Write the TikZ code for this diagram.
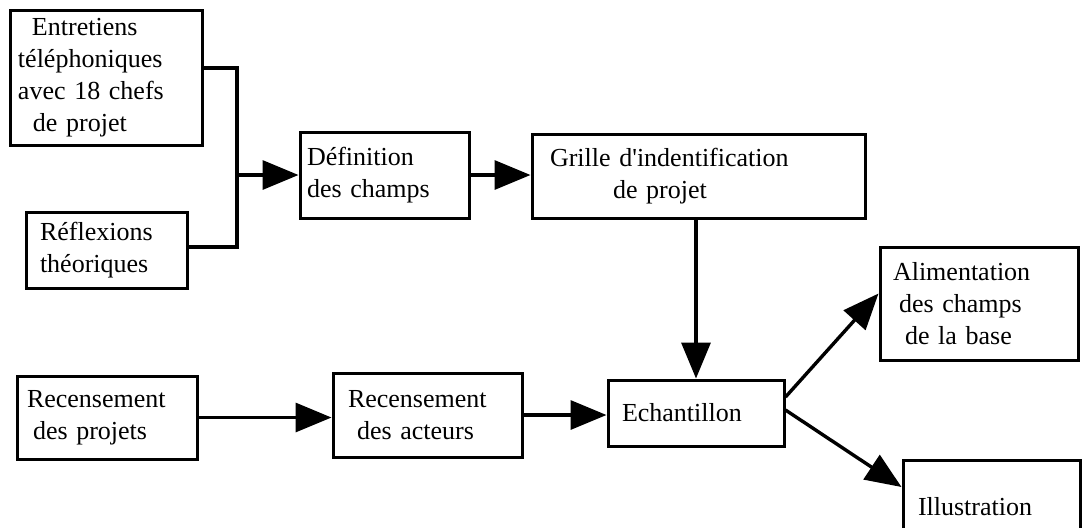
\documentclass[tikz,border=0pt]{standalone}
\usepackage{fontspec}
\setmainfont{Liberation Serif}
\usetikzlibrary{arrows.meta}

\begin{document}
\begin{tikzpicture}[x=0.5pt, y=-0.5pt,
    flowBox/.style={draw, line width=1.5pt, align=left, inner ysep=0pt,
        font=\fontsize{13}{16}\selectfont},
    flowLine/.style={line width=1.7pt},
    flowArr/.style={flowLine, -{Triangle[length=18pt,width=14.5pt]}},
]
\useasboundingbox (0,0) rectangle (1082,527);
\clip (0,0) rectangle (1082,527);
% sources on the left
\node[flowBox, minimum width=96pt, minimum height=67.5pt, text width=88pt, inner xsep=4pt]
    (entretiens) at (106,77.5)
    {\hspace*{7pt}Entretiens\\t\'el\'ephoniques\\avec 18 chefs\\\hspace*{7.5pt}de projet};
\node[flowBox, minimum width=80.5pt, minimum height=38pt, text width=66.5pt, inner xsep=7pt]
    (reflexions) at (106.5,250) {R\'eflexions\\th\'eoriques};
% top row
\node[flowBox, minimum width=84.5pt, minimum height=43pt, text width=77.5pt, inner xsep=3.5pt]
    (definition) at (384.5,175) {D\'efinition\\des champs};
\node[flowBox, minimum width=166.5pt, minimum height=42pt, text width=148.5pt, inner xsep=9pt]
    (grille) at (698.5,176) {Grille d\textquotesingle indentification\\\hspace*{31.5pt}de projet};
% bottom row
\node[flowBox, minimum width=90pt, minimum height=41.5pt, text width=80pt, inner xsep=5pt]
    (projets) at (107,417.5) {Recensement\\\hspace*{3pt}des projets};
\node[flowBox, minimum width=94.5pt, minimum height=42pt, text width=79.5pt, inner xsep=7.5pt]
    (acteurs) at (427.5,415) {Recensement\\\hspace*{4.5pt}des acteurs};
\node[flowBox, minimum width=88pt, minimum height=33pt, text width=74pt, inner xsep=7pt]
    (echantillon) at (696,413) {Echantillon};
% outputs on the right
\node[flowBox, minimum width=99pt, minimum height=56.5pt, text width=86pt, inner xsep=6.5pt]
    (alimentation) at (979,303.5)
    {Alimentation\\\hspace*{3pt}des champs\\\hspace*{6pt}de la base};
\node[flowBox, minimum width=88.5pt, minimum height=47pt, text width=73.5pt, inner xsep=7.5pt]
    (illustration) at (991.5,507) {Illustration};
% joining the two sources
\coordinate (spine) at (237,175);
\draw[flowLine] ([yshift=4.75pt]entretiens.east) -| (spine) |- ([yshift=1.5pt]reflexions.east);
\draw[flowArr] (spine) -- (spine -| definition.west);
\draw[flowArr] (definition.east) -- (definition.east -| grille.west);
\draw[flowArr] (echantillon.north |- grille.south) -- (echantillon.north);
\draw[flowArr] (projets.east) -- (projets.east -| acteurs.west);
\draw[flowArr] (acteurs.east) -- (acteurs.east -| echantillon.west);
\draw[flowArr] ([yshift=8pt]echantillon.east) -- ([yshift=5pt]alimentation.west);
\draw[flowArr] ([yshift=1.5pt]echantillon.east) -- ([yshift=10pt]illustration.west);
\end{tikzpicture}
\end{document}
